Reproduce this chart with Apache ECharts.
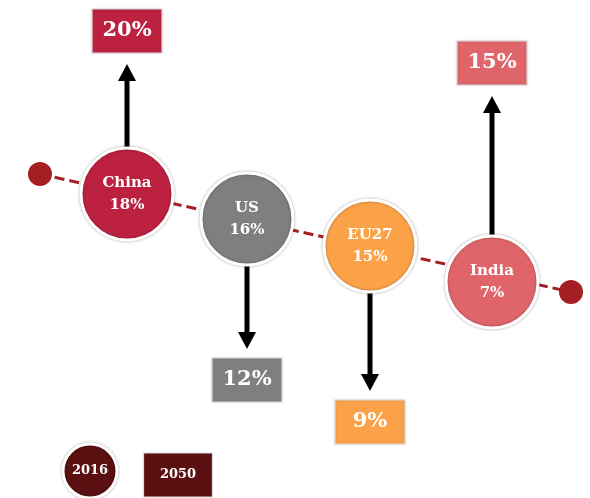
<!DOCTYPE html>
<html>
<head>
<meta charset="utf-8">
<style>
  html, body { margin: 0; padding: 0; background: #ffffff; }
  #chart { width: 590px; height: 498px; }
</style>
<script src="https://cdn.jsdelivr.net/npm/echarts@6/dist/echarts.min.js"></script>
</head>
<body>
<div id="chart"></div>
<script>
// Share of the world economy, 2016 vs 2050
const countries = ['China', 'US', 'EU27', 'India'];
const share2016 = [18, 16, 15, 7];
const share2050 = [20, 12, 9, 15];
const legendLabels = ['2016', '2050'];

const palette = ['#bd2140', '#7f7f7f', '#fba148', '#e0656a'];
const legendColor = '#5a1010';
const trendColor = '#a31f24';
const serif = '"DejaVu Serif", "Liberation Serif", serif';

// Layout in chart units (one unit per pixel of the 590x498 canvas)
const trendStart = [40, 174];
const trendEnd = [571, 292];
const bubbleX = [127, 247, 370, 492];
const bubbleY = [194, 219, 246, 282];
const bubbleR = 46;
const calloutY = [31, 380, 422, 63];
const calloutSize = [70, 44];

const bubbles = countries.map((c, i) => ({
  value: [bubbleX[i], bubbleY[i]],
  name: c,
  share: share2016[i],
  itemStyle: { color: palette[i] }
}));

const callouts = countries.map((c, i) => ({
  value: [bubbleX[i], calloutY[i]],
  name: c,
  share: share2050[i],
  itemStyle: { color: palette[i] }
}));

// Arrow from the bubble edge towards the 2050 box
const arrows = countries.map((c, i) => {
  const up = share2050[i] > share2016[i];
  const startY = up ? bubbleY[i] - bubbleR : bubbleY[i] + bubbleR;
  const boxEdge = up ? calloutY[i] + calloutSize[1] / 2 : calloutY[i] - calloutSize[1] / 2;
  const tipY = up ? boxEdge + 11 : boxEdge - 9;
  return [bubbleX[i], startY, tipY];
});

const chart = echarts.init(document.getElementById('chart'));

chart.setOption({
  animation: false,
  grid: { left: 0, right: 0, top: 0, bottom: 0 },
  xAxis: { type: 'value', min: 0, max: 590, show: false },
  yAxis: { type: 'value', min: 0, max: 498, inverse: true, show: false },
  series: [
    {
      // dashed trend line
      type: 'line',
      data: [trendStart, trendEnd],
      symbol: 'none',
      z: 1,
      lineStyle: { color: trendColor, width: 3, type: [10, 5] },
      silent: true
    },
    {
      type: 'scatter',
      data: [trendStart, trendEnd],
      symbolSize: 24,
      z: 2,
      itemStyle: { color: trendColor, opacity: 1 },
      silent: true
    },
    {
      type: 'custom',
      z: 3,
      data: arrows,
      renderItem: function (params, api) {
        const x = api.value(0), y0 = api.value(1), y1 = api.value(2);
        const a = api.coord([x, y0]);
        const b = api.coord([x, y1]);
        const dir = b[1] < a[1] ? -1 : 1;
        const head = 17, half = 9;
        const neck = b[1] - dir * head;
        return {
          type: 'group',
          children: [
            {
              type: 'line',
              shape: { x1: a[0], y1: a[1], x2: b[0], y2: neck },
              style: { stroke: '#000', lineWidth: 5 }
            },
            {
              type: 'polygon',
              shape: { points: [[b[0], b[1]], [b[0] - half, neck], [b[0] + half, neck]] },
              style: { fill: '#000' }
            }
          ]
        };
      },
      silent: true
    },
    {
      type: 'scatter',
      z: 4,
      data: bubbles,
      symbolSize: bubbleR * 2,
      itemStyle: {
        opacity: 1,
        borderColor: '#ffffff', borderWidth: 3,
        shadowBlur: 3, shadowColor: 'rgba(0,0,0,0.3)'
      },
      label: {
        show: true, position: 'inside',
        formatter: p => '{n|' + p.data.name + '}\n{v|' + p.data.share + '%}',
        rich: {
          n: { fontFamily: serif, fontWeight: 'bold', fontSize: 15, color: '#fff', lineHeight: 22 },
          v: { fontFamily: serif, fontWeight: 'bold', fontSize: 15, color: '#fff', lineHeight: 22 }
        }
      },
      silent: true
    },
    {
      type: 'scatter',
      z: 4,
      data: callouts,
      symbol: 'rect',
      symbolSize: calloutSize,
      itemStyle: {
        opacity: 1,
        borderColor: '#dddddd', borderWidth: 1,
        shadowBlur: 2, shadowColor: 'rgba(0,0,0,0.15)'
      },
      label: {
        show: true, position: 'inside',
        formatter: p => p.data.share + '%',
        fontFamily: serif, fontWeight: 'bold', fontSize: 21, color: '#fff'
      },
      silent: true
    },
    {
      // legend: bubble = 2016, box = 2050
      type: 'scatter',
      z: 4,
      data: [
        { value: [90, 471], name: legendLabels[0], symbol: 'circle', symbolSize: 54,
          itemStyle: { borderColor: '#fff', borderWidth: 3, shadowBlur: 3, shadowColor: 'rgba(0,0,0,0.3)' } },
        { value: [178, 475], name: legendLabels[1], symbol: 'rect', symbolSize: [69, 44],
          itemStyle: { borderColor: '#dddddd', borderWidth: 1 } }
      ],
      itemStyle: { color: legendColor, opacity: 1 },
      label: {
        show: true, position: 'inside', formatter: '{b}',
        fontFamily: serif, fontWeight: 'bold', fontSize: 13, color: '#fff'
      },
      silent: true
    }
  ]
});
</script>
</body>
</html>
